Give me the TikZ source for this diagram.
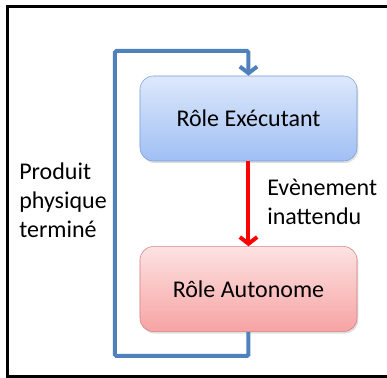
\documentclass[tikz,border=0pt]{standalone}
\usepackage{fontspec}
\setmainfont{Carlito}
\usetikzlibrary{arrows.meta,positioning,shadows}
\definecolor{rlblue}{RGB}{79,129,189}
\definecolor{rlbluetop}{RGB}{221,232,251}
\definecolor{rlbluebot}{RGB}{160,191,244}
\definecolor{rlblueedge}{RGB}{120,158,214}
\definecolor{rlredtop}{RGB}{253,226,226}
\definecolor{rlredbot}{RGB}{247,163,163}
\definecolor{rlrededge}{RGB}{214,126,126}
\tikzset{
  rolebox/.style={rectangle, rounded corners=10pt, draw, thin, minimum width=162.75pt, minimum height=63.75pt, font=\fontsize{18}{21.75}\selectfont, drop shadow={shadow xshift=1pt, shadow yshift=-1.5pt, opacity=0.25}},
  execbox/.style={rolebox, draw=rlblueedge, top color=rlbluetop, bottom color=rlbluebot},
  autobox/.style={rolebox, draw=rlrededge, top color=rlredtop, bottom color=rlredbot},
  label/.style={align=left, inner sep=0pt, font=\fontsize{18}{21.75}\selectfont},
  looparrow/.style={-{Straight Barb[length=5pt,width=13pt]}, line width=3pt, draw=rlblue},
  eventarrow/.style={-{Straight Barb[length=5pt,width=13pt]}, line width=3pt, draw=red},
  frame/.style={line width=2pt, draw=black}
}
\begin{document}
\begin{tikzpicture}[x=0.75pt, y=-0.75pt, node distance=63.75pt]
\useasboundingbox (0,0) rectangle (387,378);
\draw[frame] (395,6.5) -- (7.5,6.5) -- (7.5,376.5) -- (395,376.5);
\node[execbox] (exec) at (248.5,118.5) {Rôle Exécutant};
\node[autobox, below=of exec] (auto) {Rôle Autonome};
\coordinate (loopbl) at (115,356);
\coordinate (looptl) at (115,51);
\draw[eventarrow] (exec) -- (auto);
\draw[looparrow, rounded corners=1pt] (auto.south) |- (loopbl) -- (looptl) -| (exec.north);
\node[label, anchor=north west] (produit) at (19,163) {Produit\\physique\\terminé};
\node[label, anchor=north west] (event) at (267,179) {Evènement\\inattendu};
\end{tikzpicture}
\end{document}
